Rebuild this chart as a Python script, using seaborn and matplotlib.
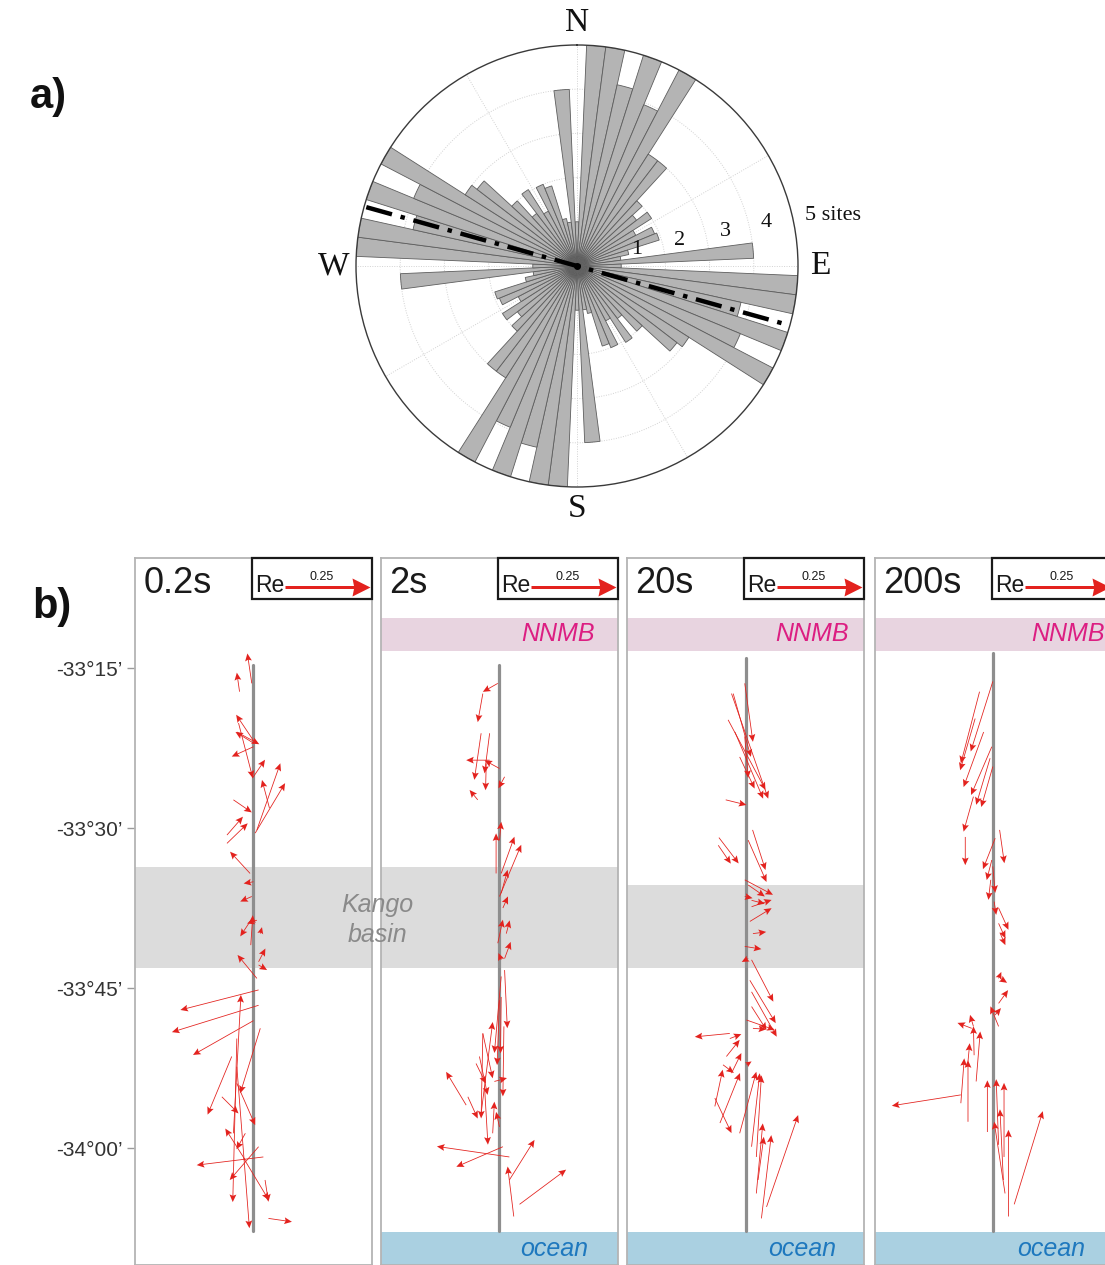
import numpy as np
import matplotlib
matplotlib.use("Agg")
import matplotlib.pyplot as plt
import seaborn as sns
from matplotlib.patches import Rectangle

sns.set_theme(style="white")
plt.rcParams["font.family"] = ["Liberation Sans", "DejaVu Sans"]

# ---------------- a) rose diagram data (axial, mirrored 180 deg) ----------------
rose_azimuth = list(range(0, 180, 5))
rose_sites = [1.0, 5.0, 5.0, 4.2, 5.0, 3.95, 5.0, 3.0, 3.0, 2.0,
              1.7, 2.0, 1.5, 1.9, 1.95, 1.2, 1.0, 4.0, 1.0, 5.0,
              5.0, 3.8, 5.0, 4.0, 5.0, 3.0, 2.85, 2.0, 1.5, 2.05,
              1.4, 2.0, 1.9, 1.1, 1.0, 4.0]
mean_strike = 105.6
ring_ticks = [1, 2, 3, 4]
ring_labels = ["1", "2", "3", "4"]

# ---------------- b) induction arrows (real part) ----------------
periods = ["0.2s", "2s", "20s", "200s"]
lat_ticks = [-33.25, -33.5, -33.75, -34.0]
lat_labels = ["-33°15\u2019", "-33°30\u2019", "-33°45\u2019", "-34°00\u2019"]
ref_length = 0.25

# 0.2 s
lat_p1 = [-33.274, -33.287, -33.365, -33.368, -33.350, -33.373, -33.422, -33.336, -33.503, -33.508,
          -33.469, -33.511, -33.524, -33.456, -33.571, -33.584, -33.607, -33.683, -33.644, -33.646,
          -33.665, -33.709, -33.714, -33.735, -33.753, -33.777, -33.801, -33.977, -33.813, -33.857,
          -33.920, -33.899, -34.019, -33.977, -34.014, -33.998, -33.829, -33.873, -34.050, -34.110,
          -34.016]
off_p1 = [-0.005, -0.041, 0.002, 0.002, -0.049, 0.000, -0.003, -0.044, 0.010, 0.005,
          0.047, -0.078, -0.078, -0.059, -0.010, 0.000, -0.005, -0.008, 0.010, -0.010,
          0.020, 0.015, 0.015, 0.010, 0.015, 0.015, 0.000, -0.059, 0.020, -0.064,
          -0.093, -0.049, -0.024, -0.024, 0.029, 0.015, -0.049, -0.049, 0.034, 0.044,
          -0.029]
u_p1 = [-0.013, -0.008, -0.053, -0.055, 0.066, -0.064, 0.037, 0.042, 0.069, 0.088,
        -0.022, 0.047, 0.061, 0.054, -0.059, -0.029, -0.034, 0.006, -0.029, -0.029,
        0.005, 0.020, 0.025, -0.057, -0.230, -0.255, -0.178, 0.022, -0.059, -0.071,
        0.049, 0.054, -0.059, -0.026, -0.196, -0.085, -0.012, 0.037, 0.010, 0.069,
        0.074]
v_p1 = [0.088, 0.056, 0.079, 0.034, -0.036, -0.029, 0.054, -0.162, 0.196, 0.147,
        0.083, 0.054, 0.059, -0.037, 0.064, -0.005, -0.015, 0.088, -0.010, -0.044,
        0.019, 0.039, -0.015, 0.069, -0.059, -0.079, -0.101, 0.407, -0.191, -0.171,
        -0.049, -0.123, 0.093, -0.047, -0.024, -0.098, -0.481, -0.475, -0.064, -0.010,
        -0.123]

# 2 s
lat_p2 = [-33.274, -33.290, -33.394, -33.352, -33.407, -33.352, -33.399, -33.456, -33.420, -33.519,
          -33.571, -33.571, -33.607, -33.602, -33.625, -33.680, -33.665, -33.704, -33.706, -33.722,
          -33.946, -33.732, -33.764, -33.769, -33.896, -33.821, -33.933, -33.868, -33.857, -33.810,
          -33.977, -33.821, -33.920, -33.967, -33.904, -34.014, -33.998, -34.050, -34.107, -34.088]
off_p2 = [-0.005, -0.049, -0.029, -0.054, 0.000, -0.029, -0.039, -0.064, 0.015, 0.000,
          -0.010, 0.005, 0.000, 0.005, 0.010, -0.005, 0.020, 0.015, 0.005, 0.015,
          -0.054, 0.005, 0.005, 0.000, -0.015, -0.049, -0.098, -0.069, -0.059, 0.013,
          -0.020, -0.049, -0.093, 0.000, -0.044, 0.029, 0.010, 0.029, 0.042, 0.059]
u_p2 = [-0.044, -0.015, -0.069, -0.020, -0.044, -0.015, -0.002, -0.024, -0.018, 0.005,
        0.000, 0.039, 0.064, 0.019, 0.015, 0.015, 0.010, 0.018, -0.008, 0.008,
        0.034, -0.020, -0.002, -0.007, 0.037, 0.029, -0.059, 0.029, 0.024, -0.003,
        0.005, -0.005, 0.029, -0.010, 0.010, -0.213, -0.137, 0.074, -0.018, 0.137]
v_p2 = [-0.025, -0.084, 0.000, -0.137, 0.024, -0.118, -0.079, 0.029, -0.034, 0.054,
        0.118, 0.108, 0.152, 0.069, 0.034, 0.069, 0.039, 0.049, 0.020, -0.171,
        0.269, -0.225, -0.166, -0.191, 0.010, -0.132, 0.098, -0.059, -0.113, -0.206,
        0.093, -0.250, -0.064, 0.044, -0.171, 0.031, -0.059, 0.118, 0.147, 0.102]

# 20 s
lat_p3 = [-33.274, -33.290, -33.357, -33.331, -33.290, -33.350, -33.389, -33.456, -33.503, -33.519,
          -33.527, -33.515, -33.581, -33.589, -33.607, -33.623, -33.613, -33.646, -33.665, -33.685,
          -33.704, -33.706, -33.738, -33.756, -33.779, -33.800, -33.813, -33.821, -33.829, -33.857,
          -33.883, -33.870, -33.870, -33.935, -33.977, -33.998, -34.014, -33.922, -33.961, -34.071,
          -34.050, -34.110, -34.092]
off_p3 = [-0.003, -0.037, -0.003, -0.052, -0.042, -0.032, -0.018, -0.059, 0.020, 0.007,
          -0.081, -0.079, -0.003, 0.007, -0.003, 0.017, 0.017, 0.012, 0.021, -0.003,
          0.007, 0.017, 0.012, 0.017, 0.017, 0.002, 0.021, -0.047, -0.047, -0.057,
          -0.042, 0.002, -0.067, -0.091, -0.018, 0.017, 0.031, -0.091, -0.076, 0.031,
          0.036, 0.046, 0.061]
u_p3 = [0.024, 0.052, 0.010, 0.110, 0.108, 0.083, 0.044, 0.061, 0.038, 0.054,
        0.037, 0.058, 0.083, 0.049, 0.023, 0.059, 0.039, 0.064, 0.039, 0.049,
        -0.019, 0.064, 0.076, 0.074, 0.044, 0.083, 0.039, -0.103, 0.034, 0.039,
        0.029, 0.015, 0.032, 0.023, 0.049, 0.024, 0.015, 0.049, 0.059, 0.019,
        0.017, 0.029, 0.093]
v_p3 = [-0.172, -0.186, -0.122, -0.206, -0.309, -0.196, -0.093, -0.015, -0.118, -0.123,
        -0.054, -0.076, -0.044, -0.034, -0.005, 0.020, -0.010, 0.039, 0.005, -0.008,
        -0.010, -0.123, -0.126, -0.132, -0.069, -0.029, -0.003, -0.010, 0.013, 0.049,
        0.059, 0.010, -0.024, 0.108, 0.181, 0.216, 0.240, -0.103, 0.147, 0.206,
        0.127, 0.245, 0.270]

# 200 s
lat_p4 = [-33.287, -33.329, -33.271, -33.350, -33.373, -33.391, -33.404, -33.451, -33.514, -33.516,
          -33.503, -33.550, -33.560, -33.581, -33.615, -33.625, -33.649, -33.665, -33.735, -33.735,
          -33.774, -33.810, -33.792, -33.813, -33.810, -33.855, -33.865, -33.896, -33.930, -33.959,
          -33.917, -33.975, -33.995, -34.014, -34.050, -34.071, -34.107, -34.088]
off_p4 = [-0.041, -0.054, -0.002, -0.029, -0.005, -0.010, -0.002, -0.059, -0.083, 0.005,
          0.018, -0.005, -0.002, -0.008, 0.002, 0.015, 0.015, 0.020, 0.015, 0.020,
          0.015, 0.015, 0.005, -0.064, -0.059, -0.057, -0.075, -0.051, -0.096, -0.075,
          -0.096, -0.018, 0.015, 0.031, 0.029, 0.034, 0.044, 0.061]
u_p4 = [-0.055, -0.044, -0.065, -0.059, -0.061, -0.041, -0.034, -0.029, 0.000, -0.036,
        0.014, -0.015, 0.007, -0.007, 0.006, 0.029, 0.020, 0.015, 0.008, 0.020,
        0.028, -0.024, 0.017, -0.042, -0.010, -0.002, 0.005, 0.012, 0.010, 0.000,
        -0.203, 0.000, -0.007, 0.000, -0.010, -0.032, 0.000, 0.084]
v_p4 = [-0.211, -0.152, -0.206, -0.162, -0.142, -0.137, -0.119, -0.103, -0.083, -0.091,
        -0.098, -0.059, -0.078, -0.059, -0.039, -0.064, -0.044, -0.034, 0.019, -0.013,
        0.039, 0.059, 0.020, 0.016, 0.034, 0.085, 0.054, 0.147, 0.132, 0.181,
        -0.032, 0.152, 0.193, 0.218, 0.208, 0.211, 0.255, 0.274]

# geological bands per panel (latitude ranges)
kango_top = [-33.5615, -33.5615, -33.589, None]
kango_bottom = -33.719
nnmb_range = (-33.223, -33.172)
nnmb_on = [False, True, True, True]
ocean_top = -34.132
ocean_on = [False, True, True, True]
profile_top = [-33.2453, -33.2453, -33.2344, -33.2266]
profile_bottom = -34.130

# ---------------- figure ----------------
W, H = 1105, 1265
fig = plt.figure(figsize=(W / 100, H / 100), dpi=100)
fig.patch.set_facecolor("white")


def fx(px):
    return px / W


def fy(py):
    return 1 - py / H


# ---- rose ----
axr = fig.add_axes([fx(356), fy(487), 442 / W, 442 / H], projection="polar")
axr.set_theta_zero_location("N")
axr.set_theta_direction(-1)
theta = np.deg2rad(np.array(rose_azimuth + [a + 180 for a in rose_azimuth]))
radii = np.array(rose_sites + rose_sites)
axr.bar(theta, radii, width=np.deg2rad(5), bottom=0, align="center",
        color="#b4b4b4", edgecolor="#5e5e5e", linewidth=0.6, zorder=2)
axr.set_ylim(0, 5)
axr.set_yticks(ring_ticks)
axr.set_yticklabels([])
axr.set_xticks(np.deg2rad(np.arange(0, 360, 30)))
axr.set_xticklabels([])
axr.grid(True, color="#d2d2d2", lw=0.7, ls=(0, (1, 1.5)))
axr.set_axisbelow(True)
axr.spines["polar"].set_color("#3a3a3a")
axr.spines["polar"].set_linewidth(1.0)
axr.set_facecolor("white")
ms = np.deg2rad(mean_strike)
axr.plot([ms + np.pi, ms + np.pi, ms, ms], [4.95, 0, 0, 4.95], color="black",
         lw=3.2, ls=(0, (6, 2, 1, 2)), zorder=4, solid_capstyle="butt")
axr.plot([0], [0], "o", color="black", ms=4, zorder=5)

serif = ["Liberation Serif", "DejaVu Serif"]
for lab, ang in zip(["N", "E", "S", "W"], [0, 90, 180, 270]):
    axr.text(np.deg2rad(ang), 5.5, lab, ha="center", va="center", fontsize=24,
             family=serif, color="#111111", clip_on=False)
for lab, rr, ang in zip(ring_labels, [1.4, 2.4, 3.44, 4.4], [75, 76, 77, 77]):
    axr.text(np.deg2rad(ang), rr, lab, ha="center", va="center", fontsize=16,
             family=serif, color="#111111", zorder=3)
axr.text(np.deg2rad(77.4), 5.28, "5 sites", ha="left", va="center", fontsize=16,
         family=serif, color="#111111", clip_on=False)

fig.text(fx(30), fy(97), "a)", fontsize=30, fontweight="bold", va="center", color="#111111")
fig.text(fx(32), fy(607), "b)", fontsize=30, fontweight="bold", va="center", color="#111111")

# ---- panels ----
panel_left = [135, 381, 627.3, 875]
panel_w = 236.8
y_top_px, y_bot_px = 558, 1265
lat_top = -33.25 + (668 - y_top_px) / 640
lat_bot = -33.25 - (y_bot_px - 668) / 640
xlim = (-0.3485, -0.3485 + panel_w / 340)

arrow_sets = [(lat_p1, off_p1, u_p1, v_p1), (lat_p2, off_p2, u_p2, v_p2),
              (lat_p3, off_p3, u_p3, v_p3), (lat_p4, off_p4, u_p4, v_p4)]
nnmb_x = [0.0, 0.904, 0.937, 0.97]
ocean_x = [0.0, 0.875, 0.881, 0.886]
red = "#e3221e"

for i, L in enumerate(panel_left):
    ax = fig.add_axes([fx(L), fy(y_bot_px), panel_w / W, (y_bot_px - y_top_px) / H])
    ax.set_xlim(*xlim)
    ax.set_ylim(lat_bot, lat_top)
    ax.set_facecolor("white")
    for s in ax.spines.values():
        s.set_color("#b4b4b4")
        s.set_linewidth(1.3)
    ax.set_xticks([])
    if i == 0:
        ax.set_yticks(lat_ticks)
        ax.set_yticklabels(lat_labels)
        ax.tick_params(axis="y", left=True, length=6, width=1, color="#9a9a9a",
                       labelsize=15, labelcolor="#333333", pad=3)
    else:
        ax.set_yticks([])

    # bands
    if kango_top[i] is not None:
        ax.axhspan(kango_bottom, kango_top[i], color="#dcdcdc", lw=0, zorder=0.5)
    if nnmb_on[i]:
        ax.axhspan(*nnmb_range, color="#e8d4e0", lw=0, zorder=0.5)
        ax.text(nnmb_x[i], 0.5 * (nnmb_range[0] + nnmb_range[1]), "NNMB",
                transform=ax.get_yaxis_transform(), ha="right", va="center",
                fontsize=18, style="italic", color="#dc1e82", zorder=1)
    if ocean_on[i]:
        ax.axhspan(lat_bot - 0.1, ocean_top, color="#aad0e1", lw=0, zorder=0.5)
        ax.text(ocean_x[i], 0.5 * (ocean_top + lat_bot), "ocean",
                transform=ax.get_yaxis_transform(), ha="right", va="center",
                fontsize=18, style="italic", color="#1e78be", zorder=1)

    # profile line
    sns.lineplot(x=[0.0, 0.0], y=[profile_top[i], profile_bottom], orient="y",
                 estimator=None, sort=False, ax=ax, color="#8e8e8e", lw=2.3, zorder=2)
    ax.set_xlim(*xlim)
    ax.set_ylim(lat_bot, lat_top)
    ax.set_xlabel("")
    ax.set_ylabel("")

    # isotropic on-screen vectors: convert north component (Re) to degrees
    bb = ax.get_position()
    px_per_re = bb.width * W / (xlim[1] - xlim[0])
    px_per_deg = bb.height * H / (lat_top - lat_bot)
    k = px_per_re / px_per_deg

    la, of, uu, vv = arrow_sets[i]
    ax.quiver(np.array(of), np.array(la), np.array(uu), np.array(vv) * k,
              angles="xy", scale_units="xy", scale=1, units="dots",
              width=0.8, headwidth=8.5, headlength=9.5, headaxislength=8.0,
              color=red, zorder=3)

    # title and reference box
    ax.text(0.035, 1 - 35 / 707, periods[i], transform=ax.transAxes, ha="left",
            va="baseline", fontsize=26, color="#1a1a1a", zorder=6)
    ax.add_patch(Rectangle((0.494, 1 - 41 / 707), 0.506, 41 / 707, transform=ax.transAxes,
                           facecolor="white", edgecolor="#1a1a1a", lw=1.6, zorder=5,
                           clip_on=False))
    ax.text(0.507, 1 - 34 / 707, "Re", transform=ax.transAxes, ha="left", va="baseline",
            fontsize=16.5, color="#1a1a1a", zorder=6)
    ref_x = xlim[0] + 150 / px_per_re
    ref_lat = -33.25 + (668 - 586.7) / 640
    ax.quiver([ref_x], [ref_lat], [ref_length], [0.0], angles="xy", scale_units="xy",
              scale=1, units="dots", width=3.0, headwidth=6.0, headlength=6.0,
              headaxislength=5.5, color=red, zorder=7, clip_on=False)
    ax.text(0.788, 1 - 19 / 707, f"{ref_length:.2f}", transform=ax.transAxes, ha="center",
            va="center", fontsize=9, color="#1a1a1a", zorder=6)

# Kango basin label (spans panels 1 and 2)
fig.text(fx(377), fy(905), "Kango", ha="center", va="center", fontsize=18,
         style="italic", color="#8a8a8a")
fig.text(fx(377), fy(935), "basin", ha="center", va="center", fontsize=18,
         style="italic", color="#8a8a8a")

fig.savefig("out.png", dpi=100, facecolor="white")
